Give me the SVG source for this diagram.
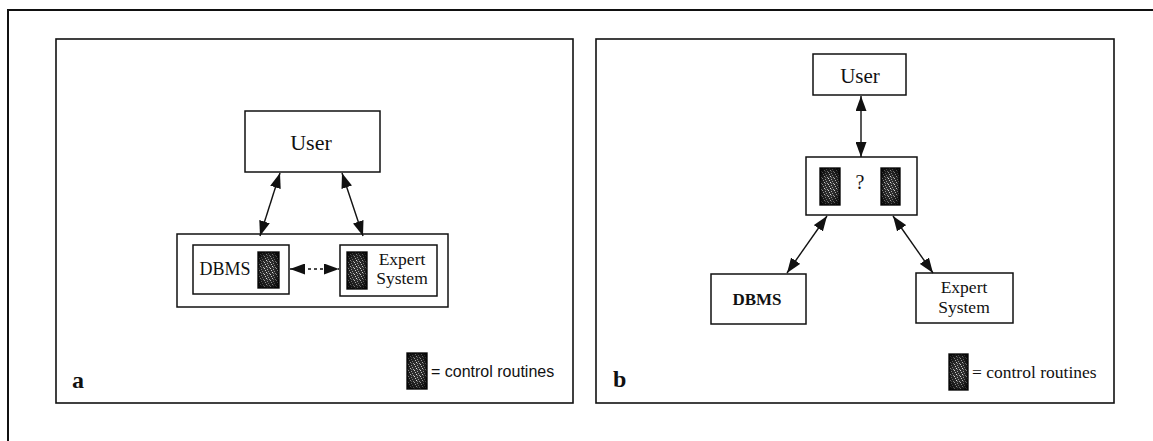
<svg xmlns="http://www.w3.org/2000/svg" width="1153" height="441" viewBox="0 0 1153 441">
  <defs>
    <style>
      .frame { fill: none; stroke: #111; stroke-width: 2; }
      .panel { fill: #fff; stroke: #111; stroke-width: 1.6; }
      .box { fill: #fff; stroke: #111; stroke-width: 1.5; }
      .ctrl { fill: url(#grain); stroke: #111; stroke-width: 1.4; }
      .shade { fill: url(#edgeShade); stroke: none; }
      .lbl { font-family: "Liberation Serif", "Times New Roman", serif; fill: #111; text-anchor: middle; }
      .tag { font-family: "Liberation Serif", "Times New Roman", serif; font-weight: bold; fill: #111; font-size: 24px; }
      .legend-sans { font-family: "Liberation Sans", Arial, sans-serif; fill: #111; font-size: 16px; }
      .legend-serif { font-family: "Liberation Serif", "Times New Roman", serif; fill: #111; font-size: 17.5px; }
      .conn { fill: none; stroke: #111; stroke-width: 1.4; marker-start: url(#head); marker-end: url(#head); }
      .dash { stroke-dasharray: 3 3; }
    </style>
    <!-- grainy fill used for the control-routine blocks -->
    <pattern id="grain" width="6" height="6" patternUnits="userSpaceOnUse">
      <rect width="6" height="6" fill="#2e2e2e"/>
      <rect x="1" y="0" width="1" height="1" fill="#c8c8c8"/>
      <rect x="4" y="1" width="1" height="1" fill="#9a9a9a"/>
      <rect x="2" y="2" width="1" height="1" fill="#e0e0e0"/>
      <rect x="5" y="3" width="1" height="1" fill="#b0b0b0"/>
      <rect x="0" y="4" width="1" height="1" fill="#d4d4d4"/>
      <rect x="3" y="5" width="1" height="1" fill="#a8a8a8"/>
      <rect x="3" y="3" width="1" height="1" fill="#7a7a7a"/>
    </pattern>
    <radialGradient id="edgeShade" cx="0.5" cy="0.5" r="0.6">
      <stop offset="0.4" stop-color="#000" stop-opacity="0"/>
      <stop offset="1" stop-color="#000" stop-opacity="0.8"/>
    </radialGradient>
    <marker id="head" viewBox="0 0 15 11" refX="15" refY="5.5" markerWidth="15" markerHeight="11" markerUnits="userSpaceOnUse" orient="auto-start-reverse">
      <path d="M0,0 L15,5.5 L0,11 Z" fill="#111"/>
    </marker>
  </defs>

  <rect width="1153" height="441" fill="#fff"/>

  <!-- outer page frame (only top and left edges) -->
  <path class="frame" d="M8,441 L8,10 L1153,10"/>

  <!-- panel a -->
  <g id="panel-a">
    <rect class="panel" x="56" y="39" width="517" height="364"/>
    <text class="tag" x="72" y="388">a</text>
  </g>

  <!-- panel b -->
  <g id="panel-b">
    <rect class="panel" x="596" y="39" width="518" height="364"/>
    <text class="tag" x="613" y="387">b</text>
  </g>

  <!-- panel a nodes -->
  <g id="a-user">
    <rect class="box" x="245" y="111" width="135" height="61"/>
    <text class="lbl" x="311" y="150" font-size="22">User</text>
  </g>
  <g id="a-container">
    <rect class="box" x="177" y="234" width="271" height="73"/>
  </g>
  <g id="a-dbms">
    <rect class="box" x="193" y="245" width="96" height="49"/>
    <text class="lbl" x="225" y="275" font-size="18">DBMS</text>
    <rect class="ctrl" x="258" y="252" width="21" height="36"/>
    <rect class="shade" x="258" y="252" width="21" height="36"/>
  </g>
  <g id="a-expert">
    <rect class="box" x="340" y="245" width="97" height="51"/>
    <rect class="ctrl" x="347" y="252" width="20" height="37"/>
    <rect class="shade" x="347" y="252" width="20" height="37"/>
    <text class="lbl" x="402" y="265" font-size="17.5">Expert</text>
    <text class="lbl" x="402" y="284" font-size="17.5">System</text>
  </g>
  <g id="a-legend">
    <rect class="ctrl" x="407" y="353" width="20" height="36"/>
    <rect class="shade" x="407" y="353" width="20" height="36"/>
    <text class="legend-sans" x="431" y="377">= control routines</text>
  </g>

  <!-- panel b nodes -->
  <g id="b-user">
    <rect class="box" x="813" y="54" width="93" height="41"/>
    <text class="lbl" x="860" y="83" font-size="21">User</text>
  </g>
  <g id="b-control">
    <rect class="box" x="806" y="157" width="111" height="58"/>
    <rect class="ctrl" x="820" y="168" width="20" height="37"/>
    <rect class="shade" x="820" y="168" width="20" height="37"/>
    <text class="lbl" x="860" y="189" font-size="20">?</text>
    <rect class="ctrl" x="881" y="168" width="19" height="37"/>
    <rect class="shade" x="881" y="168" width="19" height="37"/>
  </g>
  <g id="b-dbms">
    <rect class="box" x="711" y="274" width="95" height="50"/>
    <text class="lbl" x="757" y="305" font-size="17" font-weight="bold">DBMS</text>
  </g>
  <g id="b-expert">
    <rect class="box" x="916" y="273" width="97" height="50"/>
    <text class="lbl" x="964" y="293" font-size="17.5">Expert</text>
    <text class="lbl" x="964" y="313" font-size="17.5">System</text>
  </g>
  <g id="b-legend">
    <rect class="ctrl" x="949" y="354" width="19" height="36"/>
    <rect class="shade" x="949" y="354" width="19" height="36"/>
    <text class="legend-serif" x="972" y="378">= control routines</text>
  </g>

  <!-- connectors -->
  <g id="connectors">
    <line class="conn" x1="280" y1="173" x2="260" y2="236"/>
    <line class="conn" x1="342" y1="173" x2="363" y2="236"/>
    <line class="conn dash" x1="290" y1="269" x2="339" y2="269"/>
    <line class="conn" x1="861" y1="96" x2="861" y2="157"/>
    <line class="conn" x1="827" y1="216" x2="787" y2="273"/>
    <line class="conn" x1="893" y1="216" x2="933" y2="273"/>
  </g>
</svg>
